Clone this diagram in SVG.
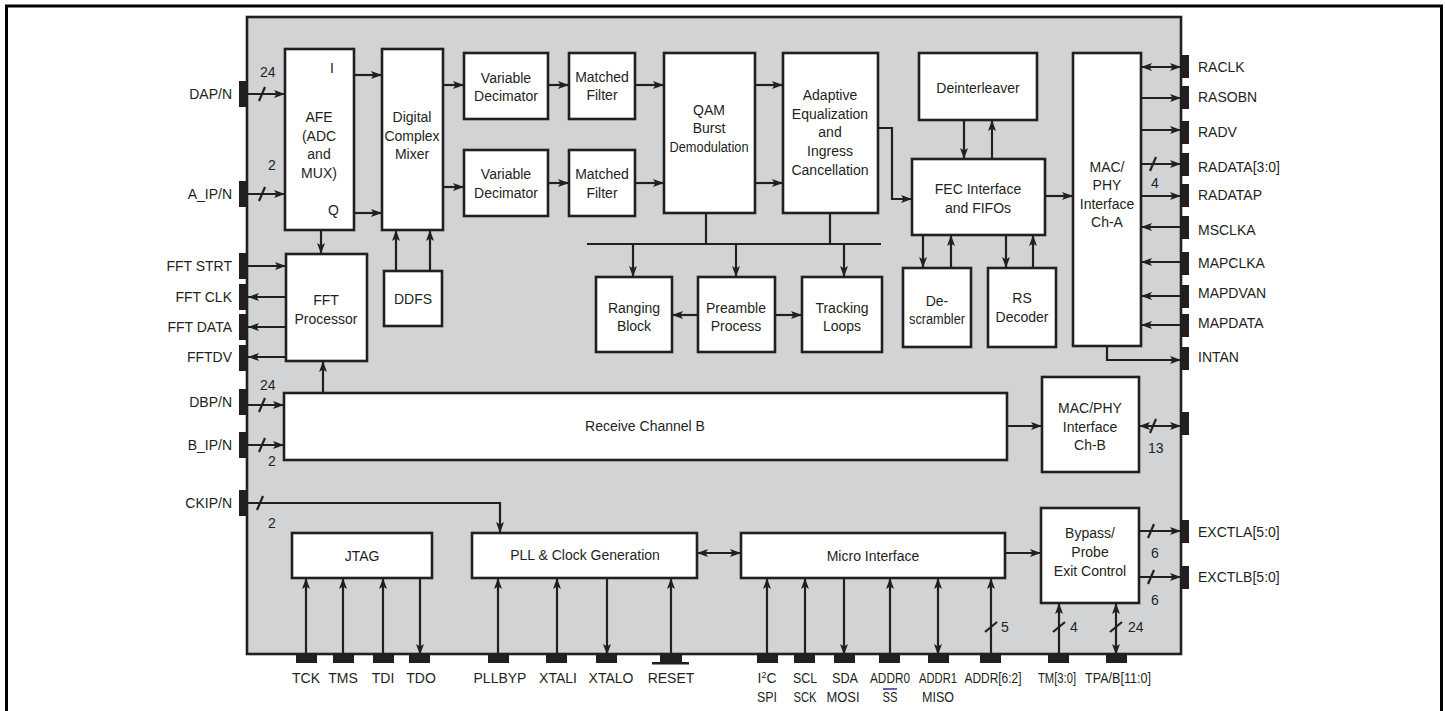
<svg xmlns="http://www.w3.org/2000/svg" width="1445" height="711" viewBox="0 0 1445 711">
<style>
text{font-family:"Liberation Sans",Arial,sans-serif;font-size:14px;fill:#231f20}
.c{text-anchor:middle}
.r{text-anchor:end}
.blk{fill:#fff;stroke:#231f20;stroke-width:2.6}
.pin{fill:#231f20}
.w{fill:none;stroke:#231f20;stroke-width:2.2}
.a{marker-end:url(#ah)}
.b{marker-start:url(#ah);marker-end:url(#ah)}
.s{stroke:#231f20;stroke-width:2.2}
</style>
<defs>
<marker id="ah" markerUnits="userSpaceOnUse" markerWidth="11" markerHeight="9" viewBox="0 0 11 9" refX="11" refY="4.5" orient="auto-start-reverse">
<path d="M0,0.5 L11,4.5 L0,8.5 L2.5,4.5 z" fill="#231f20"/>
</marker>
</defs>
<rect x="6.5" y="6" width="1435" height="720" fill="#fff" stroke="#000" stroke-width="3"/>
<rect id="chip" x="247" y="17" width="934" height="637" fill="#d1d3d4" stroke="#231f20" stroke-width="2.6"/>

<g id="pins">
<rect class="pin" x="239" y="81" width="9" height="26"/>
<rect class="pin" x="239" y="181" width="9" height="26"/>
<rect class="pin" x="239" y="253" width="9" height="26"/>
<rect class="pin" x="239" y="284" width="9" height="26"/>
<rect class="pin" x="239" y="314" width="9" height="26"/>
<rect class="pin" x="239" y="345" width="9" height="26"/>
<rect class="pin" x="239" y="389" width="9" height="26"/>
<rect class="pin" x="239" y="432" width="9" height="26"/>
<rect class="pin" x="239" y="490" width="9" height="26"/>
<rect class="pin" x="1181" y="55" width="8" height="23"/>
<rect class="pin" x="1181" y="86" width="8" height="23"/>
<rect class="pin" x="1181" y="121" width="8" height="23"/>
<rect class="pin" x="1181" y="153" width="8" height="23"/>
<rect class="pin" x="1181" y="184" width="8" height="23"/>
<rect class="pin" x="1181" y="216" width="8" height="23"/>
<rect class="pin" x="1181" y="252" width="8" height="23"/>
<rect class="pin" x="1181" y="285" width="8" height="23"/>
<rect class="pin" x="1181" y="314" width="8" height="23"/>
<rect class="pin" x="1181" y="347" width="8" height="23"/>
<rect class="pin" x="1181" y="412" width="8" height="23"/>
<rect class="pin" x="1181" y="520" width="8" height="23"/>
<rect class="pin" x="1181" y="566" width="8" height="23"/>
<rect class="pin" x="296" y="655" width="21" height="8"/>
<rect class="pin" x="333" y="655" width="21" height="8"/>
<rect class="pin" x="373" y="655" width="21" height="8"/>
<rect class="pin" x="409" y="655" width="21" height="8"/>
<rect class="pin" x="488" y="655" width="21" height="8"/>
<rect class="pin" x="546" y="655" width="21" height="8"/>
<rect class="pin" x="596" y="655" width="21" height="8"/>
<rect class="pin" x="660" y="655" width="22" height="8"/>
<rect class="pin" x="652" y="662" width="37" height="2.5"/>
<rect class="pin" x="757" y="655" width="21" height="8"/>
<rect class="pin" x="794" y="655" width="21" height="8"/>
<rect class="pin" x="834" y="655" width="21" height="8"/>
<rect class="pin" x="879" y="655" width="21" height="8"/>
<rect class="pin" x="928" y="655" width="21" height="8"/>
<rect class="pin" x="980" y="655" width="21" height="8"/>
<rect class="pin" x="1048" y="655" width="21" height="8"/>
<rect class="pin" x="1106" y="655" width="21" height="8"/>
</g>

<g id="pin-labels">
<text class="r" x="232" y="99">DAP/N</text>
<text class="r" x="232" y="199">A_IP/N</text>
<text class="r" x="232" y="271">FFT STRT</text>
<text class="r" x="232" y="302">FFT CLK</text>
<text class="r" x="232" y="332">FFT DATA</text>
<text class="r" x="232" y="362">FFTDV</text>
<text class="r" x="232" y="407">DBP/N</text>
<text class="r" x="232" y="450">B_IP/N</text>
<text class="r" x="232" y="508">CKIP/N</text>
<text x="1198" y="72">RACLK</text>
<text x="1198" y="102">RASOBN</text>
<text x="1198" y="137">RADV</text>
<text x="1198" y="172">RADATA[3:0]</text>
<text x="1198" y="200">RADATAP</text>
<text x="1198" y="235">MSCLKA</text>
<text x="1198" y="268">MAPCLKA</text>
<text x="1198" y="298">MAPDVAN</text>
<text x="1198" y="328">MAPDATA</text>
<text x="1198" y="362">INTAN</text>
<text x="1198" y="537">EXCTLA[5:0]</text>
<text x="1198" y="582">EXCTLB[5:0]</text>
<text class="c" x="306" y="683">TCK</text>
<text class="c" x="343" y="683">TMS</text>
<text class="c" x="383" y="683">TDI</text>
<text class="c" x="421" y="683">TDO</text>
<text class="c" x="500" y="683">PLLBYP</text>
<text class="c" x="558" y="683">XTALI</text>
<text class="c" x="611" y="683">XTALO</text>
<text class="c" x="671" y="683">RESET</text>
<text class="c" x="767" y="683">I<tspan font-size="9" dy="-5">2</tspan><tspan dy="5">C</tspan></text>
<text class="c" x="767" y="702" textLength="20" lengthAdjust="spacingAndGlyphs">SPI</text>
<text class="c" x="805" y="683" textLength="24" lengthAdjust="spacingAndGlyphs">SCL</text>
<text class="c" x="805" y="702" textLength="23" lengthAdjust="spacingAndGlyphs">SCK</text>
<text class="c" x="845" y="683" textLength="26" lengthAdjust="spacingAndGlyphs">SDA</text>
<text class="c" x="843" y="702" textLength="33" lengthAdjust="spacingAndGlyphs">MOSI</text>
<text class="c" x="890" y="683" textLength="40" lengthAdjust="spacingAndGlyphs">ADDR0</text>
<text class="c" x="890" y="702" textLength="15" lengthAdjust="spacingAndGlyphs">SS</text>
<line x1="883" y1="689" x2="897" y2="689" stroke="#3d3a9a" stroke-width="1.6"/>
<text class="c" x="938" y="683" textLength="38" lengthAdjust="spacingAndGlyphs">ADDR1</text>
<text class="c" x="938" y="702" textLength="32" lengthAdjust="spacingAndGlyphs">MISO</text>
<text class="c" x="993" y="683" textLength="57" lengthAdjust="spacingAndGlyphs">ADDR[6:2]</text>
<text class="c" x="1057" y="683" textLength="38" lengthAdjust="spacingAndGlyphs">TM[3:0]</text>
<text class="c" x="1118" y="683" textLength="66" lengthAdjust="spacingAndGlyphs">TPA/B[11:0]</text>
<text x="260" y="77">24</text>
<text x="268" y="170">2</text>
<text x="260" y="390">24</text>
<text x="268" y="466">2</text>
<text x="268" y="528">2</text>
<text x="1151" y="188">4</text>
<text x="1148" y="453">13</text>
<text x="1151" y="558">6</text>
<text x="1151" y="605">6</text>
<text x="1001" y="632">5</text>
<text x="1070" y="632">4</text>
<text x="1128" y="632">24</text>
</g>

<g id="connectors">
<line class="w a" x1="248" y1="94" x2="285" y2="94"/>
<line class="w a" x1="248" y1="194" x2="285" y2="194"/>
<line class="w a" x1="354" y1="75" x2="382" y2="75"/>
<line class="w a" x1="354" y1="213" x2="382" y2="213"/>
<line class="w a" x1="321" y1="230" x2="321" y2="254"/>
<line class="w a" x1="396" y1="271" x2="396" y2="230"/>
<line class="w a" x1="430" y1="271" x2="430" y2="230"/>
<line class="w a" x1="248" y1="266" x2="286" y2="266"/>
<line class="w a" x1="286" y1="297" x2="248" y2="297"/>
<line class="w a" x1="286" y1="327" x2="248" y2="327"/>
<line class="w a" x1="286" y1="357" x2="248" y2="357"/>
<line class="w a" x1="323" y1="393" x2="323" y2="361"/>
<line class="w a" x1="248" y1="405" x2="284" y2="405"/>
<line class="w a" x1="248" y1="445" x2="284" y2="445"/>
<line class="w a" x1="443" y1="85" x2="464" y2="85"/>
<line class="w a" x1="443" y1="187" x2="464" y2="187"/>
<line class="w a" x1="548" y1="85" x2="569" y2="85"/>
<line class="w a" x1="548" y1="183" x2="569" y2="183"/>
<line class="w a" x1="635" y1="85" x2="664" y2="85"/>
<line class="w a" x1="635" y1="183" x2="664" y2="183"/>
<line class="w a" x1="755" y1="85" x2="783" y2="85"/>
<line class="w a" x1="755" y1="183" x2="783" y2="183"/>
<line class="w" x1="587" y1="244" x2="881" y2="244" stroke-width="2.6"/>
<line class="w" x1="706" y1="213" x2="706" y2="244"/>
<line class="w" x1="830" y1="213" x2="830" y2="244"/>
<line class="w a" x1="633" y1="244" x2="633" y2="277"/>
<line class="w a" x1="736" y1="244" x2="736" y2="277"/>
<line class="w a" x1="844" y1="244" x2="844" y2="277"/>
<line class="w a" x1="698" y1="315" x2="672" y2="315"/>
<line class="w a" x1="775" y1="315" x2="802" y2="315"/>
<polyline class="w a" points="878,128 892,128 892,199 912,199"/>
<line class="w a" x1="964" y1="120" x2="964" y2="159"/>
<line class="w a" x1="992" y1="159" x2="992" y2="120"/>
<line class="w a" x1="923" y1="235" x2="923" y2="268"/>
<line class="w a" x1="951" y1="268" x2="951" y2="235"/>
<line class="w a" x1="1006" y1="235" x2="1006" y2="268"/>
<line class="w a" x1="1033" y1="268" x2="1033" y2="235"/>
<line class="w a" x1="1045" y1="196" x2="1073" y2="196"/>
<line class="w b" x1="1141" y1="67" x2="1181" y2="67"/>
<line class="w a" x1="1141" y1="98" x2="1181" y2="98"/>
<line class="w a" x1="1141" y1="130" x2="1181" y2="130"/>
<line class="w a" x1="1141" y1="164" x2="1181" y2="164"/>
<line class="w a" x1="1141" y1="196" x2="1181" y2="196"/>
<line class="w a" x1="1181" y1="227" x2="1141" y2="227"/>
<line class="w a" x1="1181" y1="262" x2="1141" y2="262"/>
<line class="w a" x1="1181" y1="296" x2="1141" y2="296"/>
<line class="w a" x1="1181" y1="325" x2="1141" y2="325"/>
<polyline class="w a" points="1107,346 1107,360 1181,360"/>
<line class="w a" x1="1007" y1="426" x2="1042" y2="426"/>
<line class="w b" x1="1139" y1="426" x2="1181" y2="426"/>
<line class="w a" x1="1139" y1="531" x2="1181" y2="531"/>
<line class="w a" x1="1139" y1="577" x2="1181" y2="577"/>
<polyline class="w a" points="248,503 500,503 500,533"/>
<line class="w b" x1="697" y1="553" x2="741" y2="553"/>
<line class="w a" x1="1005" y1="553" x2="1041" y2="553"/>
<line class="w a" x1="306" y1="655" x2="306" y2="578"/>
<line class="w a" x1="343" y1="655" x2="343" y2="578"/>
<line class="w a" x1="383" y1="655" x2="383" y2="578"/>
<line class="w a" x1="420" y1="578" x2="420" y2="655"/>
<line class="w a" x1="498" y1="655" x2="498" y2="578"/>
<line class="w a" x1="557" y1="655" x2="557" y2="578"/>
<line class="w a" x1="607" y1="578" x2="607" y2="655"/>
<line class="w a" x1="671" y1="655" x2="671" y2="578"/>
<line class="w a" x1="767" y1="655" x2="767" y2="578"/>
<line class="w a" x1="805" y1="655" x2="805" y2="578"/>
<line class="w a" x1="844" y1="578" x2="844" y2="655"/>
<line class="w a" x1="890" y1="655" x2="890" y2="578"/>
<line class="w b" x1="938" y1="578" x2="938" y2="655"/>
<line class="w a" x1="991" y1="655" x2="991" y2="578"/>
<line class="w a" x1="1059" y1="655" x2="1059" y2="603"/>
<line class="w b" x1="1116" y1="603" x2="1116" y2="655"/>
<g id="bus-slashes">
<line class="s" x1="259" y1="101" x2="265" y2="87"/>
<line class="s" x1="259" y1="201" x2="265" y2="187"/>
<line class="s" x1="259" y1="412" x2="265" y2="398"/>
<line class="s" x1="259" y1="452" x2="265" y2="438"/>
<line class="s" x1="257" y1="510" x2="263" y2="496"/>
<line class="s" x1="1150" y1="171" x2="1156" y2="157"/>
<line class="s" x1="1150" y1="433" x2="1156" y2="419"/>
<line class="s" x1="1148" y1="538" x2="1154" y2="524"/>
<line class="s" x1="1148" y1="584" x2="1154" y2="570"/>
<line class="s" x1="985" y1="632" x2="997" y2="622"/>
<line class="s" x1="1053" y1="632" x2="1065" y2="622"/>
<line class="s" x1="1110" y1="632" x2="1122" y2="622"/>
</g>
</g>

<g id="afe"><rect class="blk" x="285" y="49" width="69" height="181"/>
<text class="c" x="319" y="122">AFE</text><text class="c" x="319" y="141">(ADC</text><text class="c" x="319" y="159">and</text><text class="c" x="319" y="178">MUX)</text>
<text x="330" y="73">I</text><text x="328" y="215">Q</text></g>
<g id="mixer"><rect class="blk" x="382" y="49" width="61" height="181"/>
<text class="c" x="412" y="122">Digital</text><text class="c" x="412" y="141">Complex</text><text class="c" x="412" y="159">Mixer</text></g>
<g id="fft"><rect class="blk" x="286" y="254" width="81" height="107"/>
<text class="c" x="326" y="305">FFT</text><text class="c" x="326" y="324">Processor</text></g>
<g id="ddfs"><rect class="blk" x="384" y="271" width="58" height="55"/>
<text class="c" x="413" y="304">DDFS</text></g>
<g id="vd1"><rect class="blk" x="464" y="53" width="84" height="66"/>
<text class="c" x="506" y="83">Variable</text><text class="c" x="506" y="101">Decimator</text></g>
<g id="vd2"><rect class="blk" x="464" y="150" width="84" height="66"/>
<text class="c" x="506" y="179">Variable</text><text class="c" x="506" y="198">Decimator</text></g>
<g id="mf1"><rect class="blk" x="569" y="53" width="66" height="66"/>
<text class="c" x="602" y="82">Matched</text><text class="c" x="602" y="100">Filter</text></g>
<g id="mf2"><rect class="blk" x="569" y="150" width="66" height="66"/>
<text class="c" x="602" y="179">Matched</text><text class="c" x="602" y="198">Filter</text></g>
<g id="qam"><rect class="blk" x="664" y="53" width="91" height="160"/>
<text class="c" x="709" y="115">QAM</text><text class="c" x="709" y="133">Burst</text><text class="c" x="709" y="152" textLength="79" lengthAdjust="spacingAndGlyphs">Demodulation</text></g>
<g id="adaptive"><rect class="blk" x="783" y="53" width="95" height="160"/>
<text class="c" x="830" y="100">Adaptive</text><text class="c" x="830" y="119">Equalization</text><text class="c" x="830" y="137">and</text><text class="c" x="830" y="156">Ingress</text><text class="c" x="830" y="175">Cancellation</text></g>
<g id="ranging"><rect class="blk" x="596" y="277" width="76" height="75"/>
<text class="c" x="634" y="313">Ranging</text><text class="c" x="634" y="331">Block</text></g>
<g id="preamble"><rect class="blk" x="698" y="277" width="77" height="75"/>
<text class="c" x="736" y="313">Preamble</text><text class="c" x="736" y="331">Process</text></g>
<g id="tracking"><rect class="blk" x="802" y="277" width="80" height="75"/>
<text class="c" x="842" y="313">Tracking</text><text class="c" x="842" y="331">Loops</text></g>
<g id="deinterleaver"><rect class="blk" x="919" y="53" width="118" height="67"/>
<text class="c" x="978" y="93">Deinterleaver</text></g>
<g id="fec"><rect class="blk" x="912" y="159" width="133" height="76"/>
<text class="c" x="978" y="194">FEC Interface</text><text class="c" x="978" y="213">and FIFOs</text></g>
<g id="descrambler"><rect class="blk" x="903" y="268" width="68" height="79"/>
<text class="c" x="937" y="306">De-</text><text class="c" x="937" y="324" textLength="56" lengthAdjust="spacingAndGlyphs">scrambler</text></g>
<g id="rs"><rect class="blk" x="988" y="268" width="68" height="79"/>
<text class="c" x="1022" y="303">RS</text><text class="c" x="1022" y="322">Decoder</text></g>
<g id="maca"><rect class="blk" x="1073" y="53" width="68" height="293"/>
<text class="c" x="1107" y="172">MAC/</text><text class="c" x="1107" y="190">PHY</text><text class="c" x="1107" y="209">Interface</text><text class="c" x="1107" y="227">Ch-A</text></g>
<g id="rxb"><rect class="blk" x="284" y="393" width="723" height="67"/>
<text class="c" x="645" y="431">Receive Channel B</text></g>
<g id="macb"><rect class="blk" x="1042" y="377" width="97" height="95"/>
<text class="c" x="1090" y="413">MAC/PHY</text><text class="c" x="1090" y="432">Interface</text><text class="c" x="1090" y="450">Ch-B</text></g>
<g id="bypass"><rect class="blk" x="1041" y="508" width="98" height="95"/>
<text class="c" x="1090" y="538">Bypass/</text><text class="c" x="1090" y="557">Probe</text><text class="c" x="1090" y="576">Exit Control</text></g>
<g id="jtag"><rect class="blk" x="292" y="533" width="140" height="45"/>
<text class="c" x="362" y="561">JTAG</text></g>
<g id="pll"><rect class="blk" x="472" y="533" width="225" height="45"/>
<text class="c" x="585" y="560">PLL &amp; Clock Generation</text></g>
<g id="micro"><rect class="blk" x="741" y="533" width="264" height="45"/>
<text class="c" x="873" y="561">Micro Interface</text></g>
</svg>
